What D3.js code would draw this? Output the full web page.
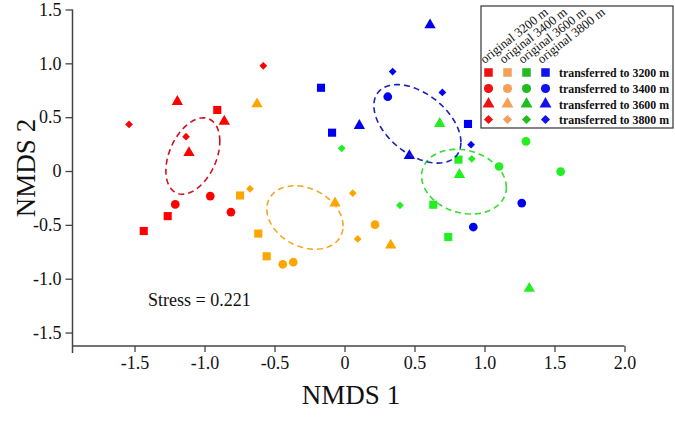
<!DOCTYPE html>
<html>
<head>
<meta charset="utf-8">
<script src="https://cdn.jsdelivr.net/npm/d3@7"></script>
<style>
  html, body { margin: 0; padding: 0; background: #fff; }
  svg { display: block; }
  text { font-family: "Liberation Serif", "Times New Roman", serif; fill: #111; }
</style>
</head>
<body>
<svg id="chart" width="675" height="424"></svg>
<script>
// ---- data ----
const groups = ["original 3200 m", "original 3400 m", "original 3600 m", "original 3800 m"];
const treatments = ["transferred to 3200 m", "transferred to 3400 m", "transferred to 3600 m", "transferred to 3800 m"];
const shapes = ["square", "circle", "triangle", "diamond"];

// points per original group: [NMDS1, NMDS2, treatmentIndex]
const red = [
  [-0.909, 0.567, 0], [-1.263, -0.419, 0], [-1.434, -0.557, 0],
  [-0.959, -0.233, 1], [-1.209, -0.310, 1], [-0.811, -0.381, 1],
  [-1.194, 0.644, 2], [-0.859, 0.461, 2], [-1.111, 0.169, 2],
  [-0.580, 0.977, 3], [-1.539, 0.433, 3], [-1.132, 0.319, 3]
];
const orange = [
  [-0.746, -0.227, 0], [-0.616, -0.581, 0], [-0.556, -0.792, 0],
  [-0.441, -0.866, 1], [-0.366, -0.847, 1], [0.218, -0.498, 1],
  [-0.625, 0.622, 2], [-0.068, -0.298, 2], [0.330, -0.690, 2],
  [-0.675, -0.165, 3], [0.059, -0.206, 3], [0.094, -0.631, 3]
];
const green = [
  [0.814, 0.106, 0], [0.634, -0.313, 0], [0.741, -0.613, 0],
  [1.296, 0.276, 1], [1.104, 0.042, 1], [1.544, -0.005, 1],
  [0.680, 0.440, 2], [0.821, -0.034, 2], [1.320, -1.091, 2],
  [-0.020, 0.211, 3], [0.396, -0.319, 3], [0.909, 0.113, 3]
];
const blue = [
  [-0.168, 0.773, 0], [-0.089, 0.356, 0], [0.882, 0.437, 0],
  [0.309, 0.690, 1], [1.266, -0.298, 1], [0.920, -0.520, 1],
  [0.611, 1.356, 2], [0.106, 0.421, 2], [0.463, 0.141, 2],
  [0.344, 0.924, 3], [0.699, 0.730, 3], [0.904, 0.245, 3]
];
const groupData = [red, orange, green, blue];

const xTicks = [-1.5, -1.0, -0.5, 0, 0.5, 1.0, 1.5, 2.0];
const xTickLabels = ["-1.5", "-1.0", "-0.5", "0", "0.5", "1.0", "1.5", "2.0"];
const yTicks = [-1.5, -1.0, -0.5, 0, 0.5, 1.0, 1.5];
const yTickLabels = ["-1.5", "-1.0", "-0.5", "0", "0.5", "1.0", "1.5"];
const stressValue = "0.221";

// ---- styles ----
const pointColors = ["#FF0000", "#FFA500", "#22EE22", "#0000F0"];
const legendColors = ["#EE1111", "#F5A05A", "#22BB22", "#1111EE"];
const ellipseColors = ["#D01020", "#F5A623", "#33DD33", "#1A22B8"];

const svg = d3.select("#chart");
const x = d3.scaleLinear().domain([-1.943, 2.0]).range([72.5, 624.5]);
const y = d3.scaleLinear().domain([-1.625, 1.5]).range([346, 9.5]);

const symType = {
  square: d3.symbolSquare, circle: d3.symbolCircle,
  triangle: d3.symbolTriangle, diamond: d3.symbolSquare
};
const symSize = { square: 66, circle: 60, triangle: 56, diamond: 30 };
function symPath(shape, scale) {
  return d3.symbol().type(symType[shape]).size(symSize[shape] * (scale || 1))();
}

// ---- axes ----
const axisColor = "#444";
const xAxis = d3.axisBottom(x).tickValues(xTicks).tickFormat((d, i) => xTickLabels[i])
  .tickSizeInner(6).tickSizeOuter(0).tickPadding(4);
const gx = svg.append("g").attr("transform", `translate(0,${y.range()[0]})`).call(xAxis);
gx.select(".domain").remove();
gx.selectAll(".tick line").attr("stroke", axisColor).attr("stroke-width", 1.3);
gx.selectAll(".tick text").attr("font-size", 18).attr("font-family", "Liberation Serif").attr("fill", "#111");

const yAxis = d3.axisLeft(y).tickValues(yTicks).tickFormat((d, i) => yTickLabels[i])
  .tickSizeInner(7).tickSizeOuter(0).tickPadding(4);
const gy = svg.append("g").attr("transform", `translate(${x.range()[0]},0)`).call(yAxis);
gy.select(".domain").remove();
gy.selectAll(".tick line").attr("stroke", axisColor).attr("stroke-width", 1.3);
gy.selectAll(".tick text").attr("font-size", 18).attr("font-family", "Liberation Serif").attr("fill", "#111");

// axis lines
svg.append("line")
  .attr("x1", x.range()[0]).attr("x2", x(2.0))
  .attr("y1", y.range()[0]).attr("y2", y.range()[0])
  .attr("stroke", axisColor).attr("stroke-width", 1.5);
svg.append("line")
  .attr("x1", x.range()[0]).attr("x2", x.range()[0])
  .attr("y1", y(1.5)).attr("y2", y.range()[0] + 7)
  .attr("stroke", axisColor).attr("stroke-width", 1.5);

svg.append("text").attr("x", 351).attr("y", 404).attr("text-anchor", "middle")
  .attr("font-size", 27).text("NMDS 1");
svg.append("text").attr("transform", "translate(35,168) rotate(-90)").attr("text-anchor", "middle")
  .attr("font-size", 27).text("NMDS 2");

svg.append("text").attr("x", 148).attr("y", 306).attr("font-size", 18)
  .text("Stress = " + stressValue);

// ---- points ----
groupData.forEach((pts, gi) => {
  svg.append("g").selectAll("path").data(pts).join("path")
    .attr("d", d => symPath(shapes[d[2]]))
    .attr("transform", d => `translate(${x(d[0])},${y(d[1])})` + (shapes[d[2]] === "diamond" ? " rotate(45)" : ""))
    .attr("fill", pointColors[gi]);
});

// ---- 95% standard-error ellipses around group centroids ----
const chiScale = Math.sqrt(5.991465);
groupData.forEach((pts, gi) => {
  const n = pts.length;
  const mx = d3.mean(pts, d => d[0]), my = d3.mean(pts, d => d[1]);
  let sxx = 0, syy = 0, sxy = 0;
  pts.forEach(d => { sxx += (d[0]-mx)**2; syy += (d[1]-my)**2; sxy += (d[0]-mx)*(d[1]-my); });
  sxx /= (n-1) * n; syy /= (n-1) * n; sxy /= (n-1) * n;
  const a = Math.sqrt(sxx), b = sxy / a, c = Math.sqrt(syy - b*b);
  const ring = d3.range(0, 101).map(k => {
    const t = 2 * Math.PI * k / 100;
    const u = Math.cos(t), v = Math.sin(t);
    return [mx + chiScale * (u * a), my + chiScale * (u * b + v * c)];
  });
  svg.append("path")
    .attr("d", d3.line().x(d => x(d[0])).y(d => y(d[1]))(ring))
    .attr("fill", "none").attr("stroke", ellipseColors[gi])
    .attr("stroke-width", 1.6).attr("stroke-dasharray", "6,4");
});

// ---- legend ----
const lg = svg.append("g");
lg.append("rect").attr("x", 481).attr("y", 6).attr("width", 192).attr("height", 122)
  .attr("fill", "#fff").attr("stroke", "#333").attr("stroke-width", 1.2);
const colX = [488.5, 507.5, 526.5, 545.5];
const rowY = [72.5, 88.5, 104, 119.5];
groups.forEach((g, gi) => {
  lg.append("text")
    .attr("transform", `translate(${colX[gi] - 4},${64}) rotate(-38)`)
    .attr("font-size", 12.8).text(g);
  shapes.forEach((s, si) => {
    lg.append("path").attr("d", symPath(s, s === "diamond" ? 1.4 : 1.1))
      .attr("transform", `translate(${colX[gi]},${rowY[si]})` + (s === "diamond" ? " rotate(45)" : ""))
      .attr("fill", legendColors[gi]);
  });
});
treatments.forEach((t, si) => {
  lg.append("text").attr("x", 559).attr("y", rowY[si] + 4.5)
    .attr("font-size", 12.5).attr("font-weight", "bold")
    .attr("textLength", 110).attr("lengthAdjust", "spacingAndGlyphs").text(t);
});
</script>
</body>
</html>
